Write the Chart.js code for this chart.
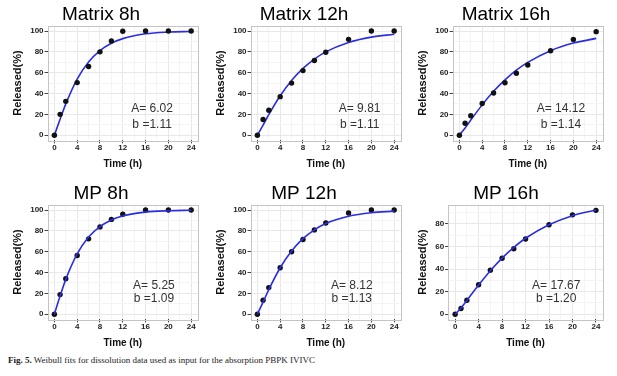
<!DOCTYPE html>
<html>
<head>
<meta charset="utf-8">
<script src="https://cdn.jsdelivr.net/npm/chart.js@4.4.1/dist/chart.umd.min.js"></script>
<style>
  body { margin: 0; background: #fff; }
  #wrap { position: relative; width: 617px; height: 376px; overflow: hidden; }
  canvas { position: absolute; }
  #caption { position: absolute; left: 8px; top: 355px; font: 9px "Liberation Serif", serif; color: #222; white-space: nowrap; }
  #caption b { font-weight: bold; }
</style>
</head>
<body>
<div id="wrap">
  <canvas id="c0" width="205" height="172" style="left:0px;top:0px"></canvas>
  <canvas id="c1" width="205" height="172" style="left:203px;top:0px"></canvas>
  <canvas id="c2" width="205" height="172" style="left:405px;top:0px"></canvas>
  <canvas id="c3" width="205" height="172" style="left:0px;top:179px"></canvas>
  <canvas id="c4" width="205" height="172" style="left:203px;top:179px"></canvas>
  <canvas id="c5" width="205" height="172" style="left:405px;top:179px"></canvas>
  <div id="caption"><b>Fig. 5.</b> Weibull fits for dissolution data used as input for the absorption PBPK IVIVC</div>
</div>
<script>
// sampling times (h)
var times = [0, 1, 2, 4, 6, 8, 10, 12, 16, 20, 24];

var titles = ['Matrix 8h', 'Matrix 12h', 'Matrix 16h', 'MP 8h', 'MP 12h', 'MP 16h'];
var paramA = ['6.02', '9.81', '14.12', '5.25', '8.12', '17.67'];
var paramB = ['1.11', '1.11', '1.14', '1.09', '1.13', '1.20'];

// observed % released
var obsMatrix8 = [0, 20, 32.5, 50.5, 66, 80, 90.4, 99.7, 100, 100, 100];
var obsMatrix12 = [0, 15, 24, 37, 50, 62, 71.7, 79.6, 92, 100, 100];
var obsMatrix16 = [0, 11.4, 18.7, 30.4, 40.5, 50.3, 59.5, 67.4, 81, 91.8, 99.4];
var obsMP8 = [0, 18.8, 34, 56.4, 72.3, 83.8, 91, 95.9, 100, 100, 100];
var obsMP12 = [0, 13.4, 25.5, 44.6, 59.9, 71.7, 80.9, 87.6, 97.1, 100, 100];
var obsMP16 = [0, 5, 12.3, 26.1, 39, 49.6, 58, 66.6, 79.2, 88, 92];

// fitted Weibull curve
var fitMatrix8 = [0, 15.3, 30.1, 53.9, 70.3, 81.2, 88.2, 92.7, 97.3, 99.0, 99.6];
var fitMatrix12 = [0, 9.7, 19.7, 37.8, 52.5, 64.1, 73.1, 80.0, 89.0, 94.1, 96.9];
var fitMatrix16 = [0, 6.8, 14.5, 29.1, 42.1, 53.1, 62.4, 69.9, 81.1, 88.4, 92.9];
var fitMP8 = [0, 17.4, 33.4, 57.8, 74.0, 84.0, 90.4, 94.3, 98.0, 99.3, 99.8];
var fitMP12 = [0, 11.6, 23.6, 44.6, 60.7, 72.5, 81.0, 87.1, 94.0, 97.4, 98.9];
var fitMP16 = [0, 5.5, 12.2, 25.8, 38.5, 49.7, 59.2, 67.3, 79.3, 87.3, 92.3];

// axis ticks
var xTicks = [0, 4, 8, 12, 16, 20, 24];
var yTicks = [0, 20, 40, 60, 80, 100];
var yTicksMP16 = [0, 20, 40, 60, 80];
var yLimits = [[-5, 105], [-5, 105], [-5, 105], [-5, 105], [-5, 105], [-4.6, 96.9]];

var observed = [obsMatrix8, obsMatrix12, obsMatrix16, obsMP8, obsMP12, obsMP16];
var fitted = [fitMatrix8, fitMatrix12, fitMatrix16, fitMP8, fitMP12, fitMP16];
var yTickSets = [yTicks, yTicks, yTicks, yTicks, yTicks, yTicksMP16];

// annotation positions as fraction of the panel
var labelPos = [[0.695, 0.727, 0.863], [0.725, 0.727, 0.863], [0.72, 0.727, 0.863],
                [0.707, 0.707, 0.82], [0.673, 0.707, 0.82], [0.698, 0.707, 0.82]];

function withMinor(major) {
  var out = [];
  for (var i = 0; i < major.length; i++) {
    out.push(major[i]);
    if (i < major.length - 1) out.push((major[i] + major[i + 1]) / 2);
  }
  return out;
}

var panelBox = {
  id: 'panelBox',
  afterDraw: function (chart) {
    var a = chart.chartArea;
    var ctx = chart.ctx;
    ctx.save();
    ctx.strokeStyle = '#c4c4c4';
    ctx.lineWidth = 1;
    ctx.strokeRect(Math.round(a.left) + 0.5, Math.round(a.top) + 0.5,
      Math.round(a.right - a.left), Math.round(a.bottom - a.top));
    var p = chart.options.plugins.params;
    ctx.fillStyle = '#333';
    ctx.font = '12px "Liberation Sans", Arial, sans-serif';
    ctx.textAlign = 'center';
    ctx.textBaseline = 'middle';
    var w = a.right - a.left, h = a.bottom - a.top;
    ctx.fillText('A= ' + p.a, a.left + w * p.pos[0], a.top + h * p.pos[1]);
    ctx.fillText('b =' + p.b, a.left + w * p.pos[0], a.top + h * p.pos[2]);
    ctx.restore();
  }
};

function gridColor(major) {
  return function (c) {
    if (!c.tick) return 'transparent';
    return major.indexOf(c.tick.value) >= 0 ? '#e8e8e8' : '#f4f4f4';
  };
}
function tickMarkColor(major) {
  return function (c) {
    if (!c.tick) return 'transparent';
    return major.indexOf(c.tick.value) >= 0 ? '#444' : 'transparent';
  };
}

function drawPanel(i) {
  var ctx = document.getElementById('c' + i).getContext('2d');
  var pts = times.map(function (t, k) { return { x: t, y: observed[i][k] }; });
  var curve = times.map(function (t, k) { return { x: t, y: fitted[i][k] }; });
  var yMajor = yTickSets[i];
  var isMP = i >= 3;

  new Chart(ctx, {
    type: 'scatter',
    data: {
      datasets: [{
        label: 'Observed',
        data: pts,
        pointRadius: 2.7,
        pointBackgroundColor: '#111',
        pointBorderColor: '#111',
        pointBorderWidth: 0,
        order: isMP ? 2 : 1
      }, {
        label: 'Weibull fit',
        data: curve,
        showLine: true,
        pointRadius: 0,
        borderColor: '#2a2ee0',
        borderWidth: 1.6,
        tension: 0.4,
        cubicInterpolationMode: 'monotone',
        order: isMP ? 1 : 2
      }]
    },
    options: {
      responsive: false,
      animation: false,
      layout: { padding: { left: 4, right: 7, top: 0, bottom: 2 } },
      plugins: {
        legend: { display: false },
        tooltip: { enabled: false },
        title: {
          display: true,
          text: titles[i],
          color: '#000',
          font: { family: '"Liberation Sans", Arial, sans-serif', size: 19, weight: 'normal' },
          padding: { top: 3, bottom: 0 }
        },
        params: { a: paramA[i], b: paramB[i], pos: labelPos[i] }
      },
      scales: {
        x: {
          type: 'linear',
          min: -1.2,
          max: 25.2,
          afterBuildTicks: function (axis) {
            axis.ticks = withMinor(xTicks).map(function (v) { return { value: v }; });
          },
          ticks: {
            autoSkip: false,
            maxRotation: 0,
            padding: 0,
            color: '#222',
            font: { family: '"Liberation Sans", Arial, sans-serif', size: 8, weight: 'bold' },
            callback: function (v) { return xTicks.indexOf(v) >= 0 ? v : ''; }
          },
          grid: { color: gridColor(xTicks), tickColor: tickMarkColor(xTicks), tickLength: 3, drawTicks: true },
          border: { display: false },
          title: {
            display: true,
            text: 'Time (h)',
            color: '#111',
            font: { family: '"Liberation Sans", Arial, sans-serif', size: 10, weight: 'bold' },
            padding: { top: 5, bottom: 0 }
          }
        },
        y: {
          min: yLimits[i][0],
          max: yLimits[i][1],
          afterBuildTicks: function (axis) {
            axis.ticks = withMinor(yMajor).concat(yMajor[yMajor.length - 1] < 90 ? [90] : [])
              .map(function (v) { return { value: v }; });
          },
          ticks: {
            autoSkip: false,
            padding: 1,
            color: '#222',
            font: { family: '"Liberation Sans", Arial, sans-serif', size: 8, weight: 'bold' },
            callback: function (v) { return yMajor.indexOf(v) >= 0 ? v : ''; }
          },
          grid: { color: gridColor(yMajor), tickColor: tickMarkColor(yMajor), tickLength: 3 },
          border: { display: false },
          title: {
            display: true,
            text: 'Released(%)',
            color: '#111',
            font: { family: '"Liberation Sans", Arial, sans-serif', size: 11, weight: 'bold' },
            padding: { top: 7.5, bottom: 4.5 }
          }
        }
      }
    },
    plugins: [panelBox]
  });
}

for (var i = 0; i < 6; i++) drawPanel(i);
</script>
</body>
</html>
